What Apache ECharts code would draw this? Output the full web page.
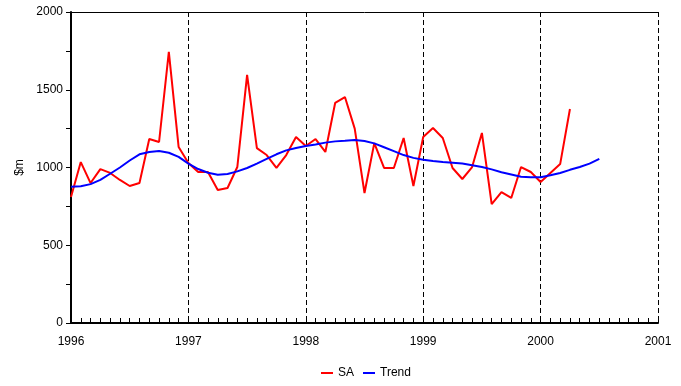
<!DOCTYPE html>
<html><head><meta charset="utf-8">
<script src="https://cdn.jsdelivr.net/npm/echarts@6/dist/echarts.min.js"></script>
<style>html,body{margin:0;padding:0;background:#fff}#c{width:681px;height:386px}</style>
</head><body><div id="c"></div>
<script>
const yearTicks = [1996, 1997, 1998, 1999, 2000, 2001];
const saValues = [
  810, 1035, 900, 990, 965, 920, 881, 900, 1183, 1164, 1743, 1132,
  1029, 971, 971, 855, 868, 1003, 1595, 1125, 1080, 997, 1080, 1196,
  1138, 1183, 1100, 1415, 1453, 1250, 836, 1157, 997, 997, 1190, 881,
  1196, 1254, 1190, 997, 926, 1003, 1222, 765, 842, 804, 1003, 971,
  907, 965, 1022, 1376
];
const trendValues = [
  877, 880, 893, 920, 960, 1000, 1045, 1085, 1100, 1106, 1095, 1068,
  1025, 990, 966, 953, 958, 975, 997, 1025, 1055, 1085, 1110, 1125,
  1138, 1148, 1160, 1168, 1172, 1177, 1170, 1155, 1130, 1105, 1080, 1062,
  1050, 1042, 1035, 1030, 1025, 1015, 1003, 988, 970, 955, 940, 937,
  937, 950, 965, 985, 1003, 1025, 1055
];
// monthly categories from Jan 1996 to Jan 2001
const months = [];
for (let y = yearTicks[0]; y < yearTicks[yearTicks.length - 1]; y++) {
  for (let m = 1; m <= 12; m++) months.push(y + '-' + (m < 10 ? '0' + m : m));
}
months.push(yearTicks[yearTicks.length - 1] + '-01');

const font = 'Liberation Sans, Arial, sans-serif';
const chart = echarts.init(document.getElementById('c'));
chart.setOption({
  animation: false,
  grid: {left: 71, right: 23, top: 12, bottom: 63},
  legend: {
    top: 362, left: 316, itemWidth: 12, itemHeight: 2, itemGap: 9,
    textStyle: {fontFamily: font, fontSize: 12, color: '#000'},
    data: [{name: 'SA', icon: 'rect'}, {name: 'Trend', icon: 'rect'}]
  },
  xAxis: [{
    type: 'category', data: months, boundaryGap: false,
    axisLine: {show: true, lineStyle: {color: '#000', width: 2}},
    axisTick: {show: true, inside: true, interval: 0, length: 5, lineStyle: {color: '#000'}},
    axisLabel: {interval: 11, formatter: v => v.slice(0, 4), color: '#000', fontFamily: font, fontSize: 12, margin: 13},
    splitLine: {show: true, interval: 11, lineStyle: {color: '#000', width: 1, type: [5, 3]}}
  }, {
    type: 'category', data: months, boundaryGap: false, position: 'top',
    axisLine: {show: true, onZero: false, lineStyle: {color: '#000', width: 1}},
    axisTick: {show: false}, axisLabel: {show: false}, splitLine: {show: false}
  }],
  yAxis: {
    type: 'value', min: 0, max: 2000, interval: 500,
    name: '$m', nameLocation: 'middle', nameGap: 43, nameRotate: 90,
    nameTextStyle: {color: '#000', fontFamily: font, fontSize: 12},
    axisLine: {show: true, lineStyle: {color: '#000', width: 2}},
    axisTick: {show: true, length: 5, lineStyle: {color: '#000'}},
    minorTick: {show: true, splitNumber: 2, length: 5, lineStyle: {color: '#000'}},
    axisLabel: {formatter: v => String(v), color: '#000', fontFamily: font, fontSize: 12, margin: 8},
    splitLine: {show: false}
  },
  series: [
    {name: 'SA', type: 'line', data: saValues, symbol: 'none', color: '#ff0000',
     lineStyle: {color: '#ff0000', width: 2}, z: 3},
    {name: 'Trend', type: 'line', data: trendValues, symbol: 'none', color: '#0000ff',
     lineStyle: {color: '#0000ff', width: 2}, z: 4}
  ]
});
</script></body></html>
